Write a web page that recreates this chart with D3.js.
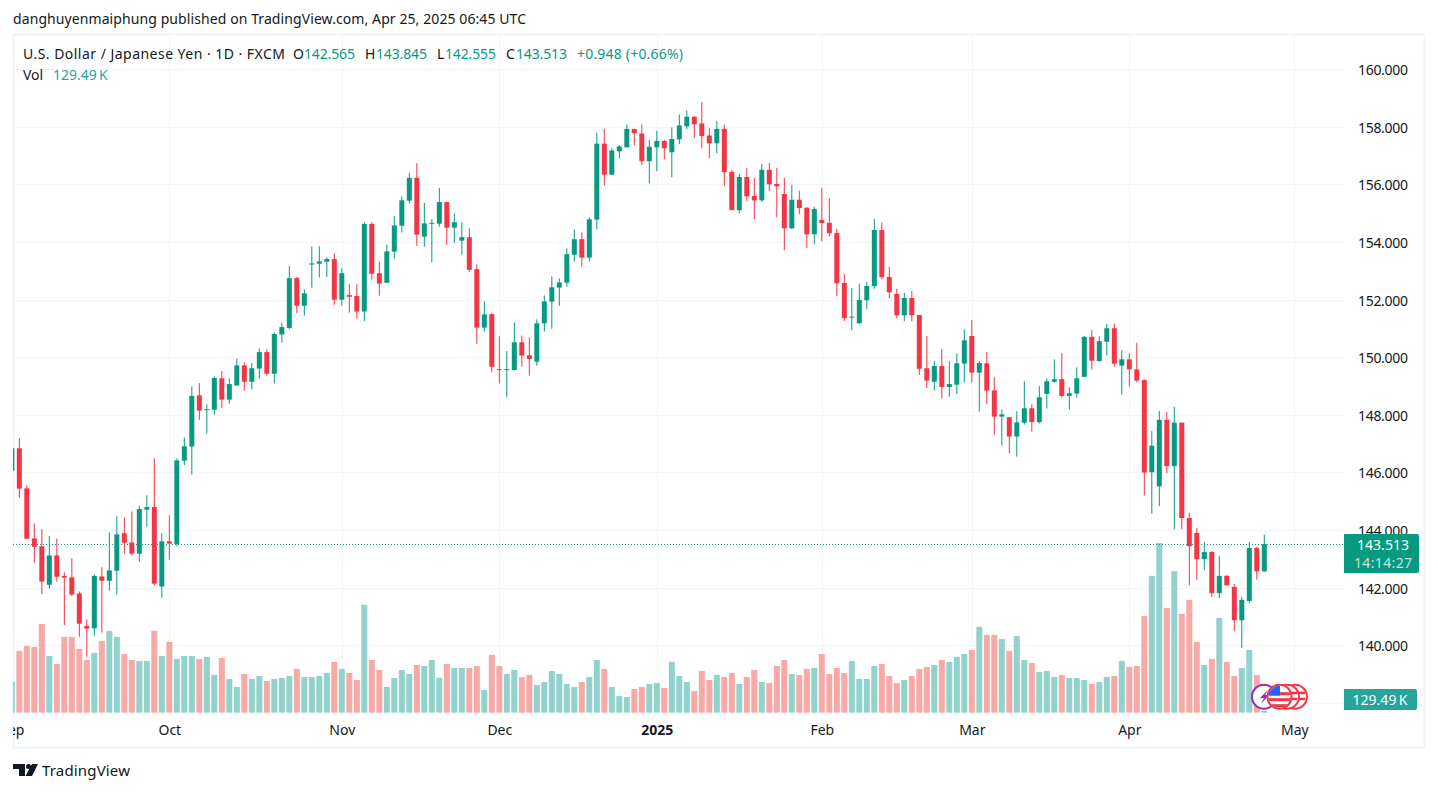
<!DOCTYPE html>
<html>
<head>
<meta charset="utf-8">
<style>
  html, body { margin: 0; background: #fff; }
  svg { display: block; font-family: "Noto Sans", sans-serif; }
  .grid line { stroke: #f3f4f7; stroke-width: 1; shape-rendering: crispEdges; }
  .axis path { display: none; }
  .axis text { font-size: 14px; fill: #131722; font-family: "Noto Sans", sans-serif; }
</style>
</head>
<body>
<svg width="1438" height="792"></svg>
<script src="https://d3js.org/d3.v7.min.js"></script>
<script>
  // daily USDJPY, first entry is the candle cut off by the left edge
  var opens = [146.06,146.84,145.45,143.71,143.44,142.10,143.12,142.41,142.36,141.80,140.67,140.59,142.39,142.24,142.59,143.89,143.57,143.18,144.71,144.80,142.04,143.61,143.52,146.41,146.90,148.68,148.18,148.18,149.27,148.53,149.02,149.72,149.15,149.61,150.18,
    149.43,150.79,151.02,152.75,151.79,153.22,153.25,153.32,153.41,152.00,152.16,152.13,151.59,154.63,152.92,152.59,153.67,154.57,155.44,156.23,154.19,154.64,154.64,155.39,154.50,154.05,154.17,153.06,151.03,151.50,149.59,149.56,149.56,150.52,150.07,149.85,151.18,151.93,152.42,152.59,153.56,154.10,153.46,
    154.78,157.42,156.34,157.15,157.29,157.93,157.77,156.81,157.29,157.51,157.12,157.57,158.02,158.35,158.12,157.70,157.43,157.93,156.44,155.11,156.26,155.60,155.45,156.51,156.02,155.67,154.48,155.47,155.19,154.27,154.77,154.67,154.32,152.58,151.39,151.18,151.98,152.47,154.42,152.79,152.20,151.46,152.06,
    151.47,149.62,149.15,149.70,148.97,149.05,149.78,150.74,149.47,149.79,148.85,147.94,147.92,147.25,147.73,148.23,147.75,148.73,149.15,149.24,148.66,148.74,149.32,150.71,149.87,150.54,151.01,149.71,149.93,149.58,149.21,
    146.01,145.52,147.83,146.22,147.73,144.42,143.90,142.99,143.24,141.81,142.41,142.03,140.87,141.54,143.38,142.565];
  var highs = [146.95,147.19,145.55,144.23,144.03,143.79,143.71,142.53,143.02,141.87,140.90,142.46,142.71,143.92,144.48,144.44,144.65,144.84,145.21,146.49,143.89,144.51,146.49,147.22,148.99,149.10,148.37,149.34,149.52,149.27,149.96,149.83,149.80,150.31,150.28,
    150.86,151.19,153.17,152.80,152.36,153.85,153.85,153.47,153.61,153.09,152.55,152.54,154.70,154.70,153.33,153.92,154.91,155.59,156.40,156.74,155.36,154.79,155.88,155.39,155.00,154.69,154.48,153.23,151.94,151.53,150.73,150.22,151.21,150.76,150.69,151.32,152.15,152.81,152.74,153.78,154.44,154.34,154.86,
    157.80,157.93,157.27,157.37,158.08,157.93,158.08,157.55,157.87,157.55,157.98,158.43,158.57,158.38,158.87,157.96,158.21,158.08,156.51,156.37,156.58,156.23,156.71,156.75,156.58,156.23,155.99,155.78,155.22,155.22,155.88,155.53,154.46,152.90,152.41,152.56,152.62,154.81,154.67,153.14,152.38,152.24,152.31,
    151.47,150.74,149.87,150.29,149.87,150.14,150.97,151.29,149.87,150.18,149.31,148.19,147.92,148.13,149.17,148.37,149.00,149.27,149.93,150.14,148.96,149.65,150.74,150.94,150.73,151.16,151.18,150.24,150.14,150.51,149.24,
    147.44,148.14,148.10,148.28,147.73,144.60,144.08,143.59,143.28,143.10,142.44,142.13,141.68,143.59,143.42,143.845];
  var lows = [145.90,145.13,143.70,142.87,141.78,141.97,142.21,140.70,141.71,140.30,139.60,140.33,140.44,141.90,141.76,143.18,143.11,142.90,144.12,142.07,141.65,142.97,143.44,146.26,145.92,147.83,147.35,148.01,148.25,148.39,149.02,148.84,148.88,149.25,149.36,
    149.09,150.51,150.98,151.54,151.45,152.42,152.77,152.79,151.82,151.79,151.55,151.34,151.26,152.70,152.14,152.59,153.43,154.33,155.34,153.87,153.84,153.29,154.54,153.90,153.97,153.56,152.97,150.47,150.89,149.47,149.09,148.62,149.54,149.68,149.36,149.71,150.89,150.99,151.79,152.45,153.32,153.15,153.32,
    154.44,155.96,156.34,156.90,157.29,157.36,156.67,156.04,156.46,156.87,156.25,157.40,157.92,157.61,157.26,156.91,157.09,155.94,155.11,155.00,155.42,154.79,155.40,155.77,154.86,153.72,154.45,154.97,153.79,153.93,154.03,154.20,152.12,151.25,150.94,151.18,151.67,152.38,152.72,152.05,151.36,151.25,151.25,
    149.39,148.93,148.84,148.57,148.63,148.73,149.12,149.12,148.11,148.38,147.31,146.93,146.66,146.55,147.66,147.42,147.70,148.22,149.12,148.60,148.18,148.60,149.32,149.57,149.85,150.06,149.68,148.70,148.98,149.13,145.20,
    144.57,144.83,145.97,144.03,144.03,142.08,142.26,142.61,141.67,141.63,142.08,140.49,139.90,141.46,142.28,142.555];
  var closes = [146.84,145.44,143.70,143.42,142.21,143.12,142.38,142.35,141.76,140.75,140.58,142.41,142.24,142.60,143.85,143.56,143.18,144.73,144.80,142.14,143.61,143.53,146.42,146.91,148.66,148.15,148.20,149.28,148.53,149.07,149.72,149.15,149.62,150.18,149.43,
    150.81,151.05,152.75,151.79,152.22,153.26,153.33,153.41,152.00,152.92,152.10,151.59,154.63,152.90,152.56,153.68,154.58,155.45,156.23,154.26,154.65,154.67,155.39,154.50,154.69,154.17,153.04,151.03,151.49,149.67,149.56,149.59,150.52,150.06,149.94,151.18,151.94,152.43,152.60,153.58,154.10,153.46,154.79,
    157.42,156.34,157.18,157.32,157.93,157.78,156.81,157.31,157.51,157.26,157.58,158.05,158.35,158.09,157.68,157.43,157.93,156.43,155.11,156.26,155.59,155.45,156.51,156.01,155.94,154.48,155.47,155.18,154.27,155.15,154.66,154.31,152.57,151.36,151.41,151.99,152.48,154.42,152.78,152.26,151.46,152.06,151.46,
    149.60,149.19,149.70,148.97,149.07,149.79,150.59,149.47,149.80,148.84,147.94,148.02,147.25,147.74,148.23,147.75,148.61,149.17,149.24,148.66,148.75,149.27,150.71,149.88,150.56,151.01,149.78,149.93,149.58,149.19,146.00,
    146.93,147.83,146.22,147.73,144.42,143.44,142.99,143.24,141.81,142.41,142.08,140.87,141.58,143.38,142.57,143.513];
  // volume in thousands
  var volumes = [2015,4010,4330,4270,5760,3680,3160,4920,4920,4140,3420,3880,4660,5310,4920,3810,3420,3360,3360,5310,3680,4590,3490,3680,3680,3490,3620,2450,3550,2190,1670,2510,2190,2380,2060,
    2190,2250,2380,2840,2320,2320,2380,2580,3290,2840,2580,2120,7000,3420,2770,1670,2250,2770,2510,3100,3030,3420,2270,3160,2900,2900,2900,3030,1470,3750,3030,2510,2770,2320,2450,1800,1990,2710,2510,1860,1670,1990,2320,
    3420,2840,1670,1080,1020,1540,1670,1860,1930,1600,3290,2380,1990,1410,2710,2120,2450,2320,2580,1860,2320,2770,1990,1930,3030,3420,2510,2450,2840,2900,3810,2510,2900,2580,3360,2190,2190,3030,3160,2380,1930,2120,2380,
    2840,2970,3100,3420,3290,3620,3810,4070,5570,5050,5050,4790,4010,4980,3420,3230,2640,2710,2320,2450,2250,2250,2120,1860,1990,2320,2380,3360,2970,3030,6280,
    8880,11010,6800,9190,6410,7320,4590,3100,3490,6150,3290,2380,2900,4070,2450,129.49];

  var priceTicks = [160,158,156,154,152,150,148,146,144,142,140];
  var gridPrices = priceTicks.concat([138]);
  var monthIndex = [0,21,44,65,86,108,128,149,171];
  var monthLabels = ["Sep","Oct","Nov","Dec","2025","Feb","Mar","Apr","May"];

  var lastPrice = 143.513;
  var countdown = "14:14:27";
  var lastVolume = "129.49\u2009K";

  var upColor = "#089981", downColor = "#f23645";
  var volUp = "#92d2cc", volDown = "#f7a9a7", volTag = "#26a69a";

  var svg = d3.select("svg");

  var x = d3.scaleLinear().domain([0, 171]).range([11.83, 1294.3]);
  var y = d3.scaleLinear().domain([160, 140]).range([69.3, 645.3]);
  var yVol = d3.scaleLinear().domain([0, d3.max(volumes)]).range([712.7, 543]);

  svg.append("defs").append("clipPath").attr("id", "pane")
    .append("rect").attr("x", 13).attr("y", 34).attr("width", 1331).attr("height", 714);
  d3.select("defs").append("clipPath").attr("id", "flag")
    .append("circle").attr("cx", 1279.5).attr("cy", 696.7).attr("r", 11);

  // frame
  svg.append("rect").attr("x", 13.5).attr("y", 34.5).attr("width", 1411).attr("height", 713)
    .attr("fill", "none").attr("stroke", "#f0f3fa").attr("stroke-width", 2);

  // grid
  var grid = svg.append("g").attr("class", "grid");
  grid.selectAll(".h").data(gridPrices).enter().append("line")
    .attr("x1", 13).attr("x2", 1344)
    .attr("y1", function(d) { return Math.round(y(d)) + 0.5; })
    .attr("y2", function(d) { return Math.round(y(d)) + 0.5; });
  grid.selectAll(".v").data(monthIndex.slice(1)).enter().append("line")
    .attr("y1", 34).attr("y2", 716)
    .attr("x1", function(d) { return Math.round(x(d)) + 0.5; })
    .attr("x2", function(d) { return Math.round(x(d)) + 0.5; });

  var pane = svg.append("g").attr("clip-path", "url(#pane)");

  // volume
  pane.selectAll(".vol").data(volumes).enter().append("rect")
    .attr("x", function(d, i) { return x(i) - 3; })
    .attr("width", 6)
    .attr("y", function(d) { return yVol(d); })
    .attr("height", function(d) { return yVol(0) - yVol(d); })
    .attr("fill", function(d, i) { return closes[i] >= opens[i] ? volUp : volDown; });

  // last price line
  pane.append("line")
    .attr("x1", 13).attr("x2", 1344)
    .attr("y1", Math.round(y(lastPrice)) + 0.5).attr("y2", Math.round(y(lastPrice)) + 0.5)
    .attr("stroke", upColor).attr("stroke-width", 1).attr("stroke-dasharray", "1 2");

  // candles
  var candle = pane.selectAll(".candle").data(opens).enter().append("g")
    .attr("fill", function(d, i) { return closes[i] >= opens[i] ? upColor : downColor; });
  candle.append("rect")
    .attr("x", function(d, i) { return x(i) - 0.5; })
    .attr("width", 1)
    .attr("y", function(d, i) { return y(highs[i]); })
    .attr("height", function(d, i) { return y(lows[i]) - y(highs[i]); });
  candle.append("rect")
    .attr("x", function(d, i) { return x(i) - 2.5; })
    .attr("width", 5)
    .attr("y", function(d, i) { return y(Math.max(opens[i], closes[i])); })
    .attr("height", function(d, i) { return Math.max(1, Math.abs(y(opens[i]) - y(closes[i]))); });

  // axes
  var yAxis = svg.append("g").attr("class", "axis")
    .attr("transform", "translate(1344,1)")
    .call(d3.axisRight(y).tickValues(priceTicks).tickFormat(d3.format(".3f")).tickSize(0).tickPadding(14));
  yAxis.selectAll("text").attr("textLength", 50);

  var xAxis = svg.append("g").attr("class", "axis")
    .attr("transform", "translate(0,716)")
    .attr("clip-path", "url(#xclip)")
    .call(d3.axisBottom(x).tickValues(monthIndex).tickSize(0).tickPadding(9)
      .tickFormat(function(d, i) { return monthLabels[i]; }));
  xAxis.selectAll("text").attr("font-weight", function(d, i) { return monthLabels[i] == "2025" ? "bold" : null; });
  d3.select("defs").append("clipPath").attr("id", "xclip")
    .append("rect").attr("x", 13).attr("y", 0).attr("width", 1331).attr("height", 40);

  // price tags
  svg.append("path").attr("d", "M1344 534h73a2 2 0 0 1 2 2v35a2 2 0 0 1 -2 2h-73z").attr("fill", upColor);
  svg.append("text").attr("x", 1383).attr("y", 550).attr("text-anchor", "middle")
    .attr("font-size", 14).attr("fill", "#fff").attr("textLength", 52).text(lastPrice.toFixed(3));
  svg.append("text").attr("x", 1383).attr("y", 568).attr("text-anchor", "middle")
    .attr("font-size", 14).attr("fill", "#fff").attr("fill-opacity", 0.75).attr("textLength", 58).text(countdown);
  svg.append("path").attr("d", "M1344 689h71a2 2 0 0 1 2 2v17a2 2 0 0 1 -2 2h-71z").attr("fill", volTag);
  svg.append("text").attr("x", 1380).attr("y", 705).attr("text-anchor", "middle")
    .attr("font-size", 14).attr("fill", "#fff").text(lastVolume);

  // event markers
  var markerY = 696.7;
  svg.append("circle").attr("cx", 1264).attr("cy", markerY).attr("r", 12)
    .attr("fill", "#fff").attr("stroke", "#9c27b0").attr("stroke-width", 2);
  svg.append("path").attr("d", "M1268 690l-8 8h4l-3 6l8 -9h-4z").attr("fill", "#9c27b0");
  [1295, 1287, 1279.5].forEach(function(cx) {
    svg.append("circle").attr("cx", cx).attr("cy", markerY).attr("r", 12)
      .attr("fill", "#fff").attr("stroke", downColor).attr("stroke-width", 2);
    if (cx != 1279.5) {
      // only the right edge of the flag peeks out behind the front marker
      svg.append("rect").attr("x", cx + 2).attr("y", markerY - 5).attr("width", 8).attr("height", 2.5).attr("fill", downColor);
      svg.append("rect").attr("x", cx + 2).attr("y", markerY + 1).attr("width", 8).attr("height", 2.5).attr("fill", downColor);
    }
  });
  var flag = svg.append("g").attr("clip-path", "url(#flag)");
  d3.range(0, 3).forEach(function(k) {
    flag.append("rect").attr("x", 1268).attr("y", markerY - 4.5 + k * 6).attr("width", 23).attr("height", 3).attr("fill", downColor);
  });
  flag.append("rect").attr("x", 1268).attr("y", markerY - 11).attr("width", 12).attr("height", 10).attr("fill", "#2962ff");

  // header and legend
  function label(px, py, str, color, size, len) {
    var t = svg.append("text").attr("x", px).attr("y", py).attr("font-size", size || 14).attr("fill", color).text(str);
    if (len) t.attr("textLength", len);
    return t;
  }
  label(13, 24, "danghuyenmaiphung published on TradingView.com, Apr 25, 2025 06:45 UTC", "#131722", 14, 513);
  label(23, 59, "U.S. Dollar / Japanese Yen \u00b7 1D \u00b7 FXCM", "#131722", 14, 262);
  var ohlcKeys = ["O", "H", "L", "C"];
  var ohlcVals = ["142.565", "143.845", "142.555", "143.513"];
  var keyX = [293, 365, 437, 506], valX = [304, 376, 445, 516];
  ohlcKeys.forEach(function(k, i) {
    label(keyX[i], 59, k, "#131722");
    label(valX[i], 59, ohlcVals[i], upColor, 14, 51);
  });
  label(577, 59, "+0.948 (+0.66%)", upColor, 14, 106);
  label(23, 80, "Vol", "#131722");
  label(53, 80, lastVolume, volTag);

  // logo
  var logo = svg.append("g").attr("fill", "#131722");
  logo.append("path").attr("d", "M13 764h12v12h-6v-7h-6z");
  logo.append("circle").attr("cx", 28.5).attr("cy", 766.5).attr("r", 2.5);
  logo.append("path").attr("d", "M32 764h6l-6 12h-6.5z");
  label(42, 775.5, "TradingView", "#131722", 15, 88);
</script>
</body>
</html>
